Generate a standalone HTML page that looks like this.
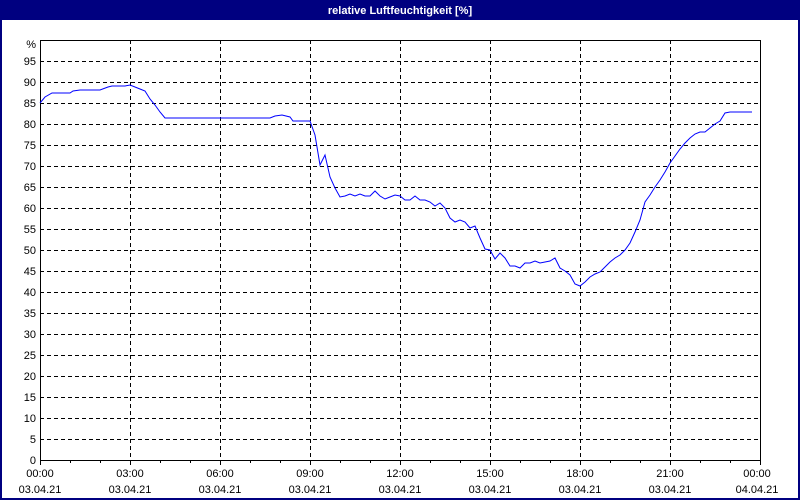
<!DOCTYPE html>
<html><head><style>
body{margin:0;background:#fff;}
svg{display:block;font-family:"Liberation Sans",sans-serif;font-size:11px;}
</style></head><body>
<svg width="800" height="500" xmlns="http://www.w3.org/2000/svg">
<rect x="0" y="0" width="800" height="500" fill="#000080"/>
<rect x="2" y="20" width="796" height="478" fill="#fff"/>
<text x="400" y="14" fill="#fff" font-weight="bold" text-anchor="middle">relative Luftfeuchtigkeit [%]</text>
<g stroke="#000" stroke-dasharray="4,3" stroke-width="1">
<path d="M40 61.5H760M40 82.5H760M40 103.5H760M40 124.5H760M40 145.5H760M40 166.5H760M40 187.5H760M40 208.5H760M40 229.5H760M40 250.5H760M40 271.5H760M40 292.5H760M40 313.5H760M40 334.5H760M40 355.5H760M40 376.5H760M40 397.5H760M40 418.5H760M40 439.5H760"/>
<path d="M130.5 40V460M220.5 40V460M310.5 40V460M400.5 40V460M490.5 40V460M580.5 40V460M670.5 40V460"/>
</g>
<rect x="40.5" y="40.5" width="720" height="420" fill="none" stroke="#000"/>
<g stroke="#000"><path d="M40.5 460v5M70.5 460v3M100.5 460v3M130.5 460v5M160.5 460v3M190.5 460v3M220.5 460v5M250.5 460v3M280.5 460v3M310.5 460v5M340.5 460v3M370.5 460v3M400.5 460v5M430.5 460v3M460.5 460v3M490.5 460v5M520.5 460v3M550.5 460v3M580.5 460v5M610.5 460v3M640.5 460v3M670.5 460v5M700.5 460v3M730.5 460v3M760.5 460v5"/></g>
<g text-anchor="end" fill="#000">
<text x="36" y="48">%</text><text x="36" y="65">95</text><text x="36" y="86">90</text><text x="36" y="107">85</text><text x="36" y="128">80</text><text x="36" y="149">75</text><text x="36" y="170">70</text><text x="36" y="191">65</text><text x="36" y="212">60</text><text x="36" y="233">55</text><text x="36" y="254">50</text><text x="36" y="275">45</text><text x="36" y="296">40</text><text x="36" y="317">35</text><text x="36" y="338">30</text><text x="36" y="359">25</text><text x="36" y="380">20</text><text x="36" y="401">15</text><text x="36" y="422">10</text><text x="36" y="443">5</text><text x="36" y="464">0</text>
</g>
<g text-anchor="middle" fill="#000">
<text x="40" y="477">00:00</text><text x="40" y="493">03.04.21</text>
<text x="130" y="477">03:00</text><text x="130" y="493">03.04.21</text>
<text x="220" y="477">06:00</text><text x="220" y="493">03.04.21</text>
<text x="310" y="477">09:00</text><text x="310" y="493">03.04.21</text>
<text x="400" y="477">12:00</text><text x="400" y="493">03.04.21</text>
<text x="490" y="477">15:00</text><text x="490" y="493">03.04.21</text>
<text x="580" y="477">18:00</text><text x="580" y="493">03.04.21</text>
<text x="670" y="477">21:00</text><text x="670" y="493">03.04.21</text>
<text x="757" y="477">00:00</text><text x="757" y="493">04.04.21</text>
</g>
<polyline fill="none" stroke="#0000ff" stroke-width="1" points="40,103 45,97 52,93 60,93 70,93 73,91 80,90 100,90 108,87 112,86 120,86 125,86 130,85 135,87 140,89 145,91 150,99 155,105 160,112 165,118 270,118 275,116 282,115 290,117 293,121 310,121 315,135 320,165 325,155 330,177 335,188 340,197 345,196 350,194 355,196 360,194 365,196 370,196 375,191 380,196 385,199 390,197 395,195 400,196 405,200 410,200 415,196 420,200 425,200 430,202 435,206 440,203 445,208 450,218 455,222 460,220 465,222 470,228 475,226 480,238 485,249 490,250 495,259 500,253 505,258 510,266 515,266 520,268 525,263 530,263 535,261 540,263 545,262 550,261 555,258 560,268 565,271 570,275 575,284 580,286 585,282 590,277 595,274 600,272 605,267 610,262 615,258 620,255 625,250 630,243 635,232 640,220 645,202 650,195 655,187 660,180 665,172 670,163 675,156 680,149 685,143 690,138 695,134 700,132 705,132 710,128 715,124 720,121 725,113 730,112 752,112"/>
</svg>
</body></html>
